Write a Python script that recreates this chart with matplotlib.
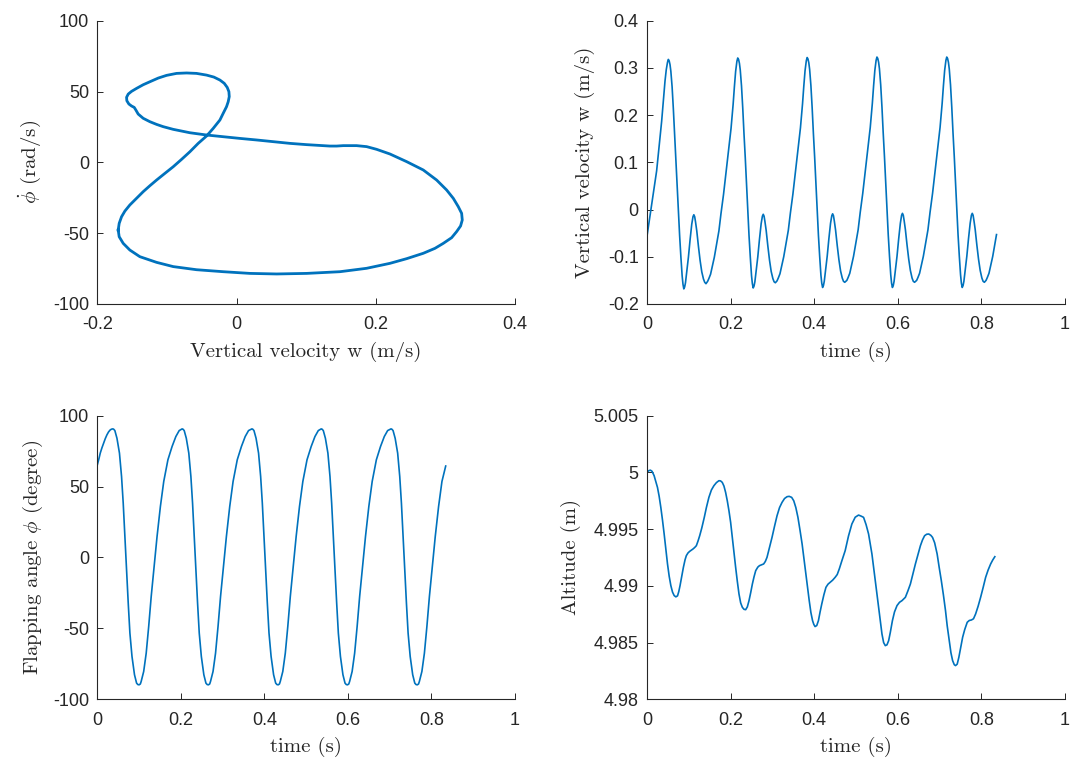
import matplotlib
matplotlib.use("Agg")
import matplotlib.pyplot as plt

plt.rcParams['mathtext.fontset'] = 'cm'
plt.rcParams['axes.unicode_minus'] = False

# ---------------- data ----------------
# phase portrait: w (m/s) vs phi_dot (rad/s), one traced closed loop
phase_w = [-0.1700, -0.1686, -0.1628, -0.1533, -0.1389, -0.1149, -0.0910, -0.0575, -0.0192, 0.0192,
           0.0575, 0.1006, 0.1485, 0.1868, 0.2203, 0.2443, 0.2682, 0.2850, 0.2969, 0.3089,
           0.3161, 0.3218, 0.3242, 0.3233, 0.3185, 0.3113, 0.3017, 0.2874, 0.2682, 0.2443,
           0.2203, 0.2011, 0.1868, 0.1724, 0.1533, 0.1437, 0.1341, 0.1006, 0.0766, 0.0527,
           0.0287, 0.0048, -0.0192, -0.0431, -0.0670, -0.0910, -0.1054, -0.1149, -0.1245, -0.1341,
           -0.1413, -0.1446, -0.1470, -0.1509, -0.1547, -0.1576, -0.1580, -0.1556, -0.1509, -0.1437,
           -0.1341, -0.1245, -0.1125, -0.1006, -0.0862, -0.0718, -0.0575, -0.0431, -0.0326, -0.0239,
           -0.0177, -0.0134, -0.0110, -0.0105, -0.0120, -0.0144, -0.0192, -0.0239, -0.0335, -0.0431,
           -0.0551, -0.0670, -0.0790, -0.0910, -0.1030, -0.1149, -0.1245, -0.1341, -0.1437, -0.1533,
           -0.1604, -0.1652, -0.1686, -0.1700]
phase_phidot = [-47.8, -52.5, -57.2, -61.9, -66.6, -70.6, -73.6, -75.8, -77.2, -78.4,
                -78.8, -78.4, -77.2, -74.8, -71.3, -68.0, -64.2, -60.7, -57.2, -53.2,
                -48.9, -44.9, -40.7, -36.0, -31.3, -25.4, -19.5, -12.5, -5.4, 0.5,
                5.9, 9.2, 11.1, 11.8, 11.8, 11.5, 11.5, 12.5, 13.4, 14.6,
                15.8, 16.9, 18.1, 19.3, 20.9, 23.3, 25.2, 26.8, 28.7, 31.1,
                34.1, 36.9, 38.8, 39.8, 41.2, 43.5, 45.9, 48.2, 50.1, 52.2,
                54.8, 56.9, 59.5, 61.4, 62.8, 63.1, 62.8, 61.6, 60.2, 58.1,
                55.8, 52.9, 49.9, 46.4, 42.8, 39.3, 34.6, 29.9, 24.0, 18.6,
                13.4, 7.5, 2.1, -3.1, -7.8, -12.5, -16.5, -20.7, -25.4, -30.1,
                -34.4, -38.4, -43.1, -47.8]

# vertical velocity w(t)
t_w = [0.000, 0.004, 0.008, 0.011, 0.017, 0.023, 0.029, 0.035, 0.040, 0.043, 0.046, 0.049,
       0.051, 0.053, 0.055, 0.057, 0.060, 0.063, 0.066, 0.069, 0.072, 0.075, 0.078, 0.081,
       0.084, 0.086, 0.088, 0.090, 0.092, 0.095, 0.099, 0.103, 0.107, 0.110, 0.112, 0.114,
       0.116, 0.119, 0.123, 0.127, 0.131, 0.135, 0.138, 0.141,
       0.145, 0.148, 0.152, 0.156, 0.161, 0.166, 0.172, 0.177, 0.183, 0.189, 0.195, 0.201,
       0.206, 0.209, 0.212, 0.215,
       0.217, 0.219, 0.221, 0.223, 0.226, 0.229, 0.232, 0.235, 0.238, 0.241, 0.244, 0.247,
       0.250, 0.252, 0.254, 0.256, 0.258, 0.261, 0.265, 0.269, 0.273, 0.276, 0.278, 0.280,
       0.282, 0.285, 0.289, 0.293, 0.297, 0.301, 0.304, 0.307,
       0.311, 0.314, 0.318, 0.322, 0.327, 0.332, 0.338, 0.343, 0.349, 0.355, 0.361, 0.367,
       0.372, 0.375, 0.378, 0.381,
       0.383, 0.385, 0.387, 0.389, 0.392, 0.395, 0.398, 0.401, 0.404, 0.407, 0.410, 0.413,
       0.416, 0.418, 0.420, 0.422, 0.424, 0.427, 0.431, 0.435, 0.439, 0.442, 0.444, 0.446,
       0.448, 0.451, 0.455, 0.459, 0.463, 0.467, 0.470, 0.473,
       0.478, 0.481, 0.485, 0.489, 0.494, 0.499, 0.505, 0.510, 0.516, 0.522, 0.528, 0.534,
       0.539, 0.542, 0.545, 0.548,
       0.550, 0.552, 0.554, 0.556, 0.559, 0.562, 0.565, 0.568, 0.571, 0.574, 0.577, 0.580,
       0.583, 0.585, 0.587, 0.589, 0.591, 0.594, 0.598, 0.602, 0.606, 0.609, 0.611, 0.613,
       0.615, 0.618, 0.622, 0.626, 0.630, 0.634, 0.637, 0.640,
       0.645, 0.648, 0.652, 0.656, 0.661, 0.666, 0.672, 0.677, 0.683, 0.689, 0.695, 0.701,
       0.706, 0.709, 0.712, 0.715,
       0.717, 0.719, 0.721, 0.723, 0.726, 0.729, 0.732, 0.735, 0.738, 0.741, 0.744, 0.747,
       0.750, 0.752, 0.754, 0.756, 0.758, 0.761, 0.765, 0.769, 0.773, 0.776, 0.778, 0.780,
       0.782, 0.785, 0.789, 0.793, 0.797, 0.801, 0.804, 0.807,
       0.811, 0.814, 0.818, 0.822, 0.827, 0.832, 0.836]
w = [-0.056, -0.032, -0.008, 0.011, 0.047, 0.082, 0.134, 0.187, 0.240, 0.272, 0.296, 0.312,
     0.318, 0.315, 0.307, 0.293, 0.260, 0.213, 0.160, 0.110, 0.055, 0.000, -0.055, -0.100,
     -0.140, -0.158, -0.168, -0.164, -0.155, -0.132, -0.101, -0.064, -0.031, -0.015, -0.011, -0.015,
     -0.026, -0.045, -0.078, -0.108, -0.132, -0.147, -0.154, -0.157,
     -0.152, -0.146, -0.137, -0.121, -0.101, -0.075, -0.045, -0.008, 0.032, 0.078, 0.124, 0.172,
     0.223, 0.260, 0.293, 0.314,
     0.321, 0.318, 0.310, 0.296, 0.262, 0.215, 0.160, 0.110, 0.055, 0.000, -0.055, -0.100,
     -0.140, -0.157, -0.166, -0.162, -0.153, -0.131, -0.100, -0.063, -0.030, -0.014, -0.010, -0.014,
     -0.025, -0.044, -0.077, -0.107, -0.131, -0.146, -0.153, -0.155,
     -0.151, -0.145, -0.136, -0.120, -0.100, -0.074, -0.044, -0.007, 0.033, 0.079, 0.125, 0.173,
     0.224, 0.261, 0.294, 0.315,
     0.322, 0.319, 0.311, 0.297, 0.263, 0.216, 0.161, 0.111, 0.056, 0.001, -0.054, -0.099,
     -0.139, -0.156, -0.165, -0.161, -0.152, -0.130, -0.099, -0.062, -0.029, -0.013, -0.009, -0.013,
     -0.024, -0.043, -0.076, -0.106, -0.130, -0.145, -0.152, -0.154,
     -0.150, -0.144, -0.135, -0.119, -0.099, -0.073, -0.043, -0.006, 0.034, 0.080, 0.126, 0.174,
     0.225, 0.262, 0.295, 0.316,
     0.323, 0.320, 0.312, 0.298, 0.264, 0.217, 0.162, 0.112, 0.057, 0.002, -0.053, -0.098,
     -0.138, -0.156, -0.165, -0.161, -0.152, -0.130, -0.099, -0.062, -0.029, -0.012, -0.008, -0.012,
     -0.023, -0.042, -0.075, -0.105, -0.129, -0.145, -0.152, -0.154,
     -0.150, -0.144, -0.135, -0.119, -0.099, -0.073, -0.043, -0.006, 0.034, 0.080, 0.126, 0.174,
     0.225, 0.262, 0.295, 0.316,
     0.323, 0.320, 0.312, 0.298, 0.264, 0.217, 0.162, 0.112, 0.057, 0.002, -0.053, -0.098,
     -0.138, -0.156, -0.165, -0.161, -0.152, -0.130, -0.099, -0.062, -0.029, -0.012, -0.008, -0.012,
     -0.023, -0.042, -0.075, -0.105, -0.129, -0.145, -0.152, -0.154,
     -0.150, -0.144, -0.135, -0.119, -0.099, -0.073, -0.053]

# flapping angle phi(t) in degrees
t_phi = [0.000, 0.004, 0.007, 0.011, 0.015, 0.019, 0.023, 0.027, 0.031, 0.034,
         0.037, 0.039, 0.042, 0.047, 0.053, 0.058, 0.062, 0.066, 0.070, 0.074, 0.078, 0.083, 0.089, 0.094, 0.097,
         0.100, 0.103, 0.105, 0.111, 0.117, 0.123, 0.129, 0.136, 0.143, 0.151, 0.159, 0.169, 0.179, 0.188, 0.196,
         0.203, 0.205, 0.208, 0.213, 0.219, 0.224, 0.228, 0.232, 0.236, 0.240, 0.244, 0.249, 0.255, 0.260, 0.263,
         0.266, 0.269, 0.271, 0.277, 0.283, 0.289, 0.295, 0.302, 0.309, 0.317, 0.325, 0.335, 0.345, 0.354, 0.362,
         0.370, 0.372, 0.375, 0.380, 0.386, 0.391, 0.395, 0.399, 0.403, 0.407, 0.411, 0.416, 0.422, 0.427, 0.430,
         0.433, 0.436, 0.438, 0.444, 0.450, 0.456, 0.462, 0.469, 0.476, 0.484, 0.492, 0.502, 0.512, 0.521, 0.529,
         0.536, 0.538, 0.541, 0.546, 0.552, 0.557, 0.561, 0.565, 0.569, 0.573, 0.577, 0.582, 0.588, 0.593, 0.596,
         0.599, 0.602, 0.604, 0.610, 0.616, 0.622, 0.628, 0.635, 0.642, 0.650, 0.658, 0.668, 0.678, 0.687, 0.695,
         0.703, 0.705, 0.708, 0.713, 0.719, 0.724, 0.728, 0.732, 0.736, 0.740, 0.744, 0.749, 0.755, 0.760, 0.763,
         0.766, 0.769, 0.771, 0.777, 0.783, 0.789, 0.795, 0.802, 0.809, 0.817, 0.825, 0.834]
phi = [65.3, 69.8, 73.6, 77.3, 80.6, 83.8, 86.5, 88.6, 90.0, 90.5,
       90.7, 90.5, 89.5, 84.1, 73.6, 57.1, 38.3, 14.8, -8.7, -32.2, -53.3, -69.8, -82.7, -88.6, -89.6,
       -89.8, -89.2, -87.4, -80.4, -67.5, -48.6, -27.5, -6.3, 14.8, 36.0, 53.6, 68.9, 78.3, 85.3, 89.5,
       90.7, 90.5, 89.5, 84.1, 73.6, 57.1, 38.3, 14.8, -8.7, -32.2, -53.3, -69.8, -82.7, -88.6, -89.6,
       -89.8, -89.2, -87.4, -80.4, -67.5, -48.6, -27.5, -6.3, 14.8, 36.0, 53.6, 68.9, 78.3, 85.3, 89.5,
       90.7, 90.5, 89.5, 84.1, 73.6, 57.1, 38.3, 14.8, -8.7, -32.2, -53.3, -69.8, -82.7, -88.6, -89.6,
       -89.8, -89.2, -87.4, -80.4, -67.5, -48.6, -27.5, -6.3, 14.8, 36.0, 53.6, 68.9, 78.3, 85.3, 89.5,
       90.7, 90.5, 89.5, 84.1, 73.6, 57.1, 38.3, 14.8, -8.7, -32.2, -53.3, -69.8, -82.7, -88.6, -89.6,
       -89.8, -89.2, -87.4, -80.4, -67.5, -48.6, -27.5, -6.3, 14.8, 36.0, 53.6, 68.9, 78.3, 85.3, 89.5,
       90.7, 90.5, 89.5, 84.1, 73.6, 57.1, 38.3, 14.8, -8.7, -32.2, -53.3, -69.8, -82.7, -88.6, -89.6,
       -89.8, -89.2, -87.4, -80.4, -67.5, -48.6, -27.5, -6.3, 14.8, 36.0, 53.6, 64.5]

# altitude h(t) in m
t_alt = [0.000, 0.004, 0.008, 0.012, 0.017, 0.021, 0.025, 0.029, 0.033, 0.037, 0.041, 0.045,
         0.049, 0.053, 0.057, 0.061, 0.065, 0.069, 0.073, 0.076, 0.079, 0.083, 0.087, 0.091,
         0.094, 0.098, 0.102, 0.106, 0.110, 0.114, 0.118, 0.122, 0.126, 0.131, 0.137, 0.142,
         0.148, 0.154, 0.160, 0.166, 0.172, 0.176, 0.180, 0.184, 0.188, 0.192, 0.196, 0.200,
         0.204, 0.208, 0.212, 0.216, 0.220, 0.224, 0.228, 0.232, 0.236, 0.240, 0.244, 0.248,
         0.252, 0.256, 0.260, 0.265, 0.269, 0.274, 0.279, 0.283, 0.287, 0.293, 0.299, 0.305,
         0.311, 0.317, 0.323, 0.329, 0.335, 0.340, 0.346, 0.351, 0.356, 0.361, 0.366, 0.371,
         0.375, 0.379, 0.383, 0.388, 0.392, 0.396, 0.399, 0.402, 0.406, 0.410, 0.414, 0.418,
         0.423, 0.428, 0.433, 0.438, 0.444, 0.450, 0.455, 0.460, 0.466, 0.474, 0.482, 0.490,
         0.498, 0.506, 0.512, 0.518, 0.524, 0.530, 0.534, 0.538, 0.542, 0.546, 0.550, 0.554,
         0.558, 0.562, 0.566, 0.570, 0.574, 0.578, 0.582, 0.587, 0.592, 0.598, 0.604, 0.610,
         0.618, 0.624, 0.630, 0.636, 0.642, 0.648, 0.654, 0.659, 0.664, 0.669, 0.674, 0.679,
         0.683, 0.688, 0.694, 0.699, 0.704, 0.709, 0.714, 0.718, 0.723, 0.727, 0.731, 0.735,
         0.738, 0.742, 0.746, 0.750, 0.755, 0.760, 0.766, 0.771, 0.776, 0.781, 0.786, 0.792,
         0.798, 0.804, 0.810, 0.816, 0.822, 0.827, 0.832]
altitude = [5.00000, 5.00015, 5.00020, 5.00010, 4.99971, 4.99920, 4.99868, 4.99790, 4.99692, 4.99580, 4.99457, 4.99325,
            4.99193, 4.99085, 4.99002, 4.98945, 4.98914, 4.98903, 4.98912, 4.98950, 4.99002, 4.99080, 4.99163, 4.99230,
            4.99266, 4.99290, 4.99304, 4.99314, 4.99325, 4.99338, 4.99354, 4.99395, 4.99442, 4.99510, 4.99604, 4.99690,
            4.99780, 4.99845, 4.99883, 4.99910, 4.99927, 4.99925, 4.99912, 4.99880, 4.99824, 4.99750, 4.99662, 4.99560,
            4.99427, 4.99295, 4.99163, 4.99040, 4.98928, 4.98850, 4.98811, 4.98793, 4.98790, 4.98815, 4.98870, 4.98940,
            4.99016, 4.99080, 4.99134, 4.99165, 4.99178, 4.99186, 4.99193, 4.99215, 4.99251, 4.99340, 4.99427, 4.99525,
            4.99618, 4.99690, 4.99736, 4.99770, 4.99786, 4.99789, 4.99780, 4.99750, 4.99690, 4.99604, 4.99490, 4.99369,
            4.99250, 4.99134, 4.99010, 4.98870, 4.98765, 4.98693, 4.98660, 4.98641, 4.98650, 4.98693, 4.98770, 4.98840,
            4.98920, 4.98987, 4.99015, 4.99031, 4.99050, 4.99075, 4.99100, 4.99150, 4.99220, 4.99310, 4.99440, 4.99545,
            4.99605, 4.99624, 4.99615, 4.99604, 4.99540, 4.99457, 4.99370, 4.99281, 4.99165, 4.99046, 4.98928, 4.98811,
            4.98690, 4.98576, 4.98500, 4.98473, 4.98480, 4.98517, 4.98590, 4.98693, 4.98770, 4.98826, 4.98855, 4.98870,
            4.98899, 4.98955, 4.99016, 4.99105, 4.99193, 4.99275, 4.99354, 4.99405, 4.99442, 4.99455, 4.99457, 4.99445,
            4.99427, 4.99380, 4.99281, 4.99160, 4.99046, 4.98920, 4.98782, 4.98650, 4.98517, 4.98410, 4.98341, 4.98305,
            4.98297, 4.98310, 4.98371, 4.98450, 4.98547, 4.98615, 4.98679, 4.98695, 4.98699, 4.98710, 4.98752, 4.98820,
            4.98899, 4.98985, 4.99075, 4.99140, 4.99193, 4.99228, 4.99257]

# tick values / labels
phase_xticks = [-0.2, 0, 0.2, 0.4]
phase_xlabels = ['-0.2', '0', '0.2', '0.4']
deg_ticks = [-100, -50, 0, 50, 100]
deg_labels = ['-100', '-50', '0', '50', '100']
time_ticks = [0, 0.2, 0.4, 0.6, 0.8, 1]
time_labels = ['0', '0.2', '0.4', '0.6', '0.8', '1']
w_ticks = [-0.2, -0.1, 0, 0.1, 0.2, 0.3, 0.4]
w_labels = ['-0.2', '-0.1', '0', '0.1', '0.2', '0.3', '0.4']
alt_ticks = [4.98, 4.985, 4.99, 4.995, 5, 5.005]
alt_labels = ['4.98', '4.985', '4.99', '4.995', '5', '5.005']

# ---------------- drawing ----------------
blue = '#0072BD'
dark = '#262626'
tick_font = 'Liberation Sans'
label_kw = dict(fontsize=15, color=dark, family='cmr10')

fig = plt.figure(figsize=(10.73, 7.64), dpi=100)


def style(ax, xt, xl, yt, yl, xlim, ylim):
    ax.set_xlim(xlim)
    ax.set_ylim(ylim)
    ax.set_xticks(xt)
    ax.set_xticklabels(xl, fontfamily=tick_font, fontsize=13, color=dark)
    ax.set_yticks(yt)
    ax.set_yticklabels(yl, fontfamily=tick_font, fontsize=13, color=dark)
    for s in ['top', 'right']:
        ax.spines[s].set_visible(False)
    for s in ['left', 'bottom']:
        ax.spines[s].set_color(dark)
        ax.spines[s].set_linewidth(0.8)
    ax.tick_params(direction='in', length=4, width=0.7, colors=dark)
    ax.tick_params(axis='x', pad=9)
    ax.tick_params(axis='y', pad=6)


ax1 = fig.add_axes([0.0907, 0.6021, 0.3893, 0.3708])
ax1.plot(phase_w, phase_phidot, color=blue, lw=2.0)
style(ax1, phase_xticks, phase_xlabels, deg_ticks, deg_labels, (-0.2, 0.4), (-100, 100))
ax1.set_xlabel('Vertical velocity w (m/s)', labelpad=6, **label_kw)
ax1.set_ylabel(r'$\dot{\phi}$ (rad/s)', labelpad=7, **label_kw)

ax2 = fig.add_axes([0.6030, 0.6021, 0.3896, 0.3708])
ax2.plot(t_w, w, color=blue, lw=1.2)
style(ax2, time_ticks, time_labels, w_ticks, w_labels, (0, 1), (-0.2, 0.4))
ax2.set_xlabel('time (s)', labelpad=6, **label_kw)
ax2.set_ylabel('Vertical velocity w (m/s)', labelpad=9, **label_kw)

ax3 = fig.add_axes([0.0907, 0.0847, 0.3893, 0.3712])
ax3.plot(t_phi, phi, color=blue, lw=1.2)
style(ax3, time_ticks, time_labels, deg_ticks, deg_labels, (0, 1), (-100, 100))
ax3.set_xlabel('time (s)', labelpad=6, **label_kw)
ax3.set_ylabel(r'Flapping angle $\phi$ (degree)', labelpad=6, **label_kw)

ax4 = fig.add_axes([0.6030, 0.0847, 0.3896, 0.3712])
ax4.plot(t_alt, altitude, color=blue, lw=1.2)
style(ax4, time_ticks, time_labels, alt_ticks, alt_labels, (0, 1), (4.98, 5.005))
ax4.set_xlabel('time (s)', labelpad=6, **label_kw)
ax4.set_ylabel('Altitude (m)', labelpad=9, **label_kw)

fig.savefig('out.png', dpi=100)
